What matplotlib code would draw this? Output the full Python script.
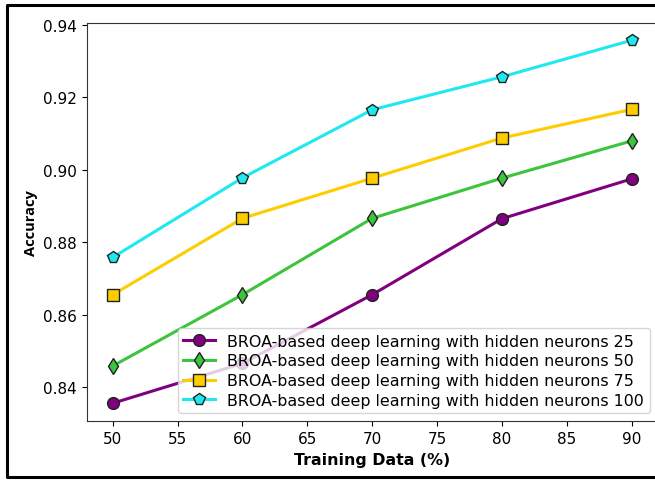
import matplotlib
matplotlib.use("Agg")
import matplotlib.pyplot as plt
from matplotlib.lines import Line2D

# ================== Data ==================
training_pct = [50, 60, 70, 80, 90]
acc_25 = [0.8355, 0.8465, 0.8655, 0.8865, 0.8975]
acc_50 = [0.8458, 0.8655, 0.8866, 0.8977, 0.9080]
acc_75 = [0.8655, 0.8866, 0.8977, 0.9088, 0.9167]
acc_100 = [0.8758, 0.8978, 0.9166, 0.9257, 0.9358]

series = [
    (acc_25, "purple", "o", "BROA-based deep learning with hidden neurons 25"),
    (acc_50, "#3cc43c", "d", "BROA-based deep learning with hidden neurons 50"),
    (acc_75, "#ffcc00", "s", "BROA-based deep learning with hidden neurons 75"),
    (acc_100, "#1ee8f0", "p", "BROA-based deep learning with hidden neurons 100"),
]

# ================== Plot ==================
fig = plt.figure(figsize=(6.55, 4.81), dpi=100)
ax = fig.add_axes([0.1325, 0.122, 0.8715, 0.8275])

for vals, col, mk, lab in series:
    ax.plot(training_pct, vals, color=col, marker=mk, markersize=8.5,
            markerfacecolor=col, markeredgecolor="#222222", markeredgewidth=1.0,
            linewidth=2.2, label=lab)

ax.set_xlim(48, 92)
ax.set_ylim(0.8305, 0.9405)
ax.set_yticks([0.84, 0.86, 0.88, 0.90, 0.92, 0.94])
ax.set_xlabel("Training Data (%)", fontsize=11.4, fontweight="bold", labelpad=4)
ax.set_ylabel("Accuracy", fontsize=10.5, fontweight="bold", family="Open Sans")
ax.tick_params(labelsize=11)
ax.spines["right"].set_visible(False)
for s in ["left", "bottom", "top"]:
    ax.spines[s].set_color("#333333")

ax.legend(loc="lower right", fontsize=11.4, handlelength=2.0, labelspacing=0.3,
          borderaxespad=0.5, borderpad=0.35)

# black frame around the figure (left, top, bottom only - cropped on the right)
x0, y0, y1 = 7 / 655, 3 / 481, 475 / 481
fig.lines.append(Line2D([1.05, x0, x0, 1.05], [y1, y1, y0, y0],
                        transform=fig.transFigure, color="black", linewidth=2.2))

fig.savefig("out.png", dpi=100)
